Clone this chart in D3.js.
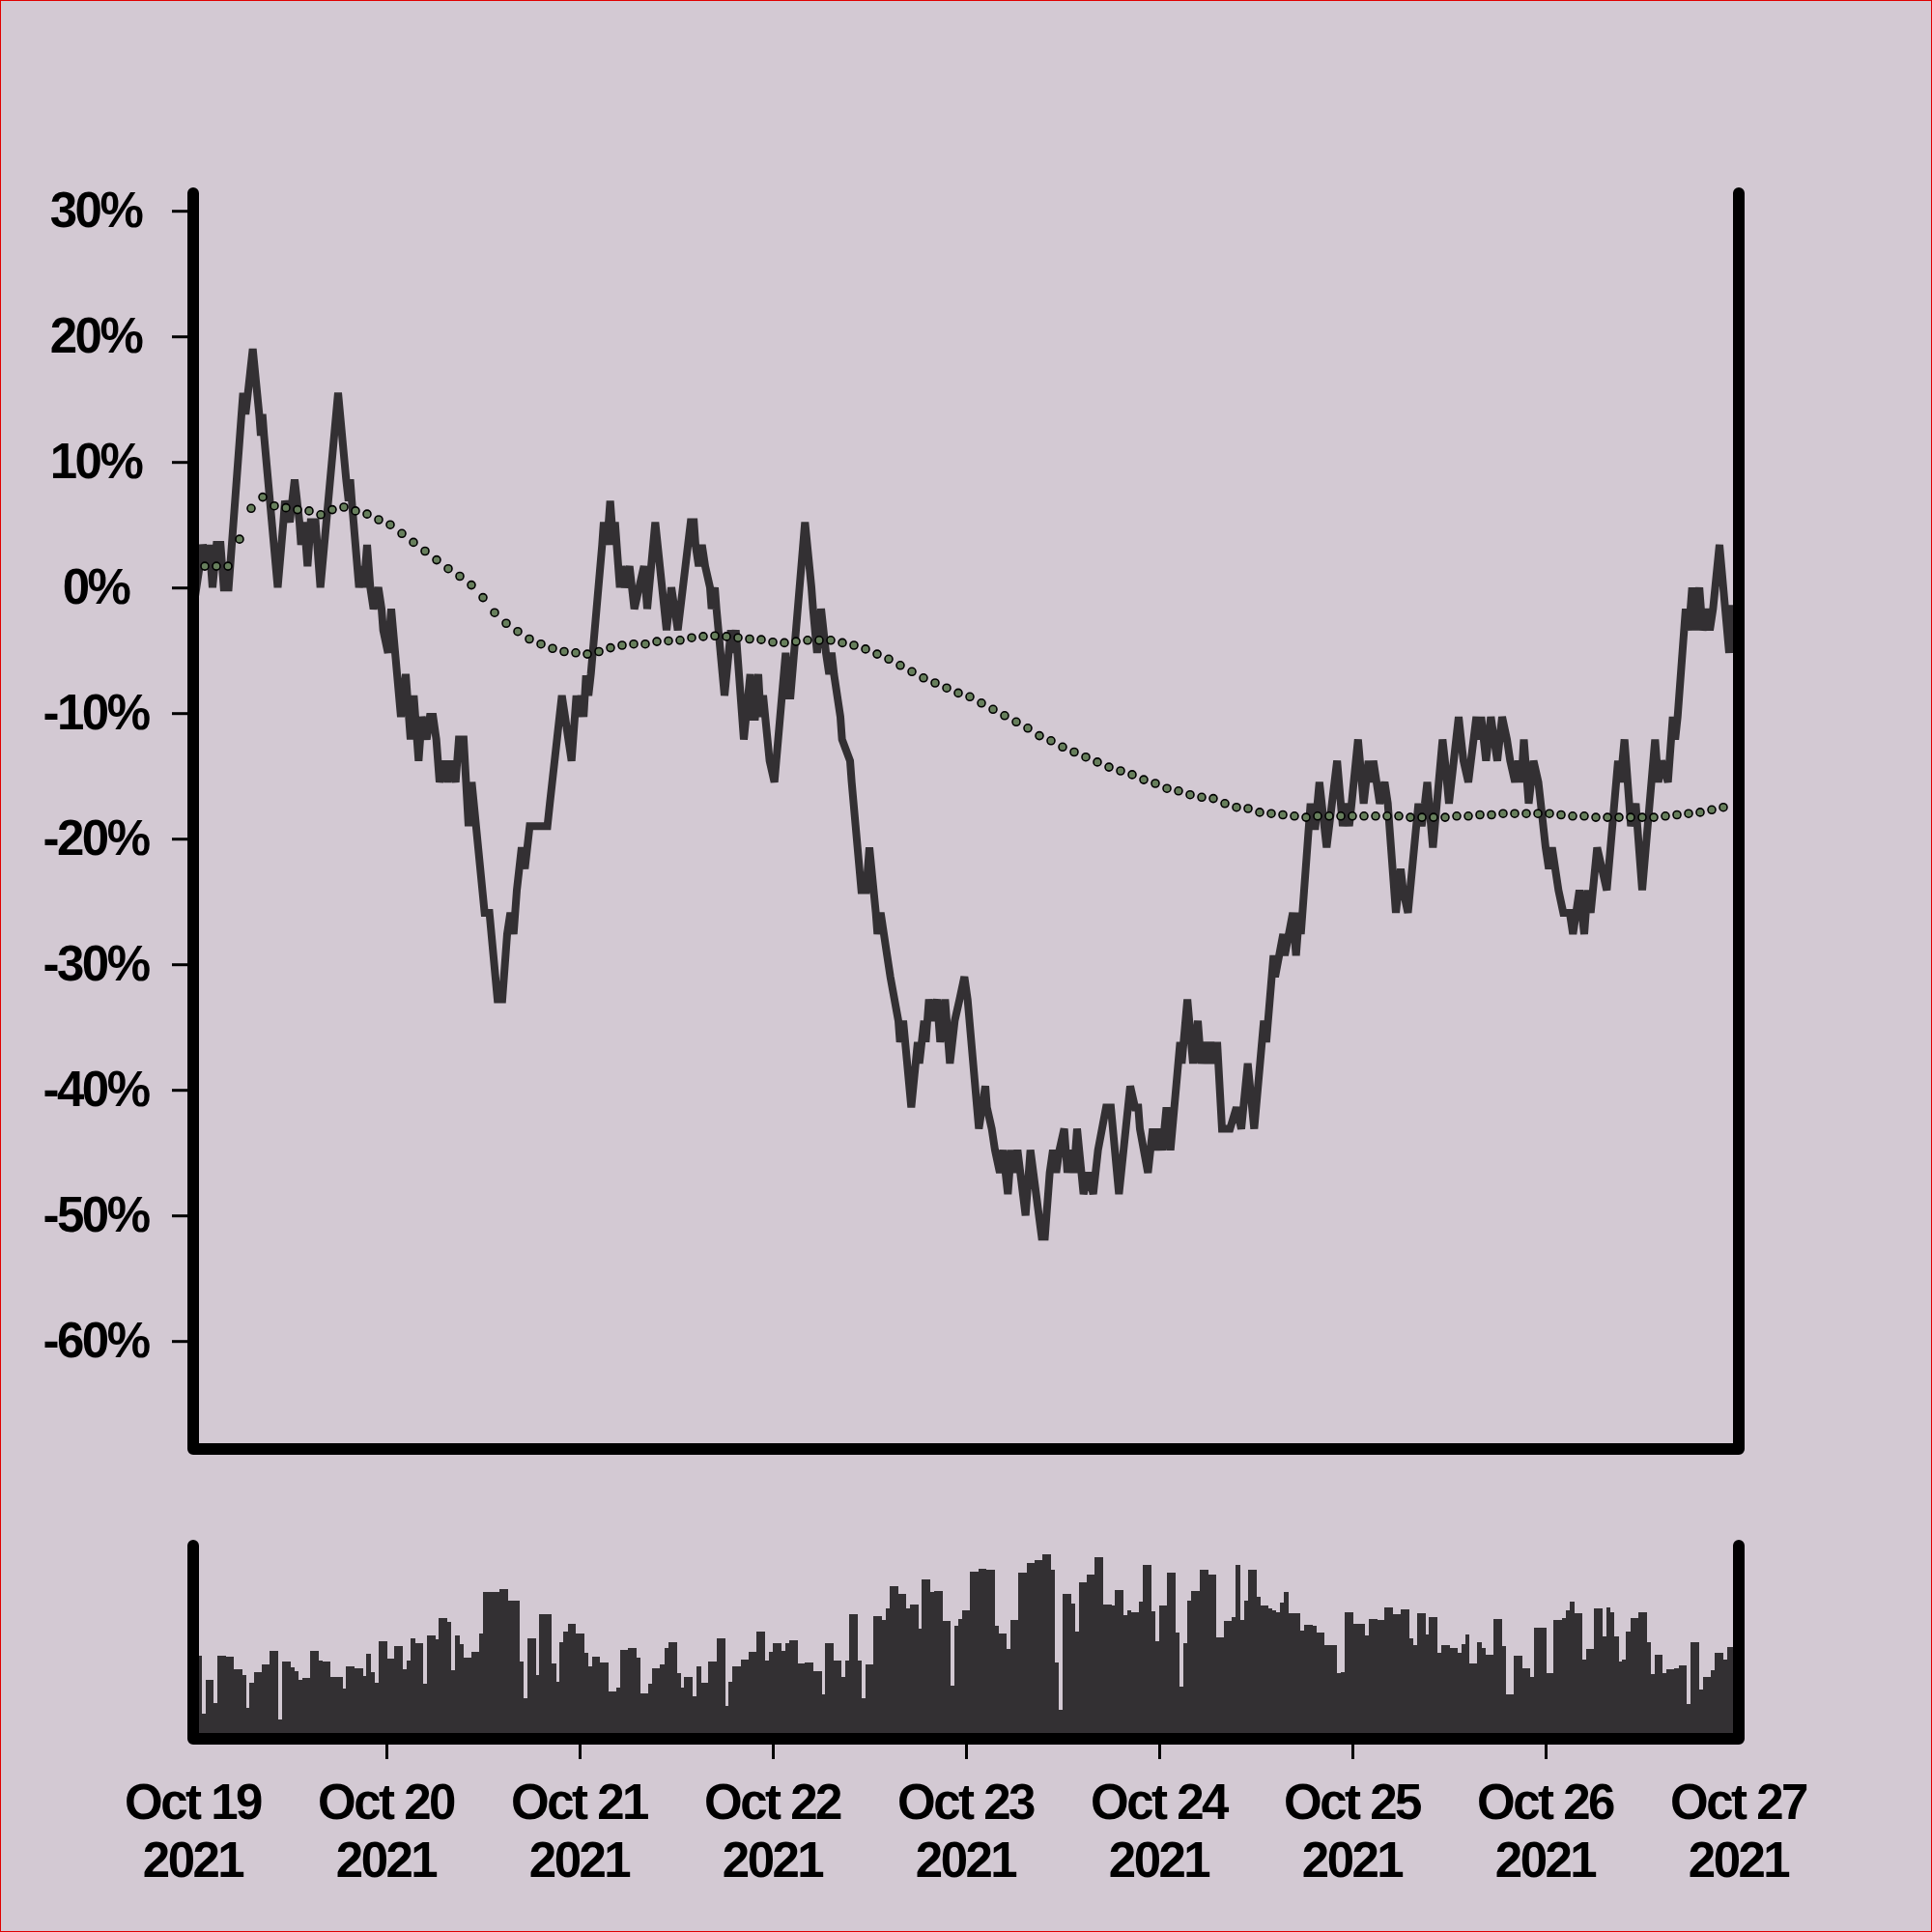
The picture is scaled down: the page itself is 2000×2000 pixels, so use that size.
<!DOCTYPE html>
<html><head><meta charset="utf-8">
<script src="https://cdn.jsdelivr.net/npm/d3@7"></script>
<style>
html,body{margin:0;padding:0;background:#d3c9d3;}
svg{display:block;}
text{font-family:"Liberation Sans",Arial,Helvetica,sans-serif;font-weight:bold;fill:#000;}
</style></head><body>
<svg id="chart" width="2000" height="2000"></svg>
<script>
// ---------- data ----------
const startDay = "2021-10-19";
const endDay = "2021-10-27";
const xTickDays = ["2021-10-19","2021-10-20","2021-10-21","2021-10-22","2021-10-23","2021-10-24","2021-10-25","2021-10-26","2021-10-27"];
const yTickValues = [-60,-50,-40,-30,-20,-10,0,10,20,30];

// price line vertices: hours after Oct 19 00:00 and % change
const lineHours = [0,1.2,1.8,2.0,2.4,2.9,3.4,3.8,4.4,6.0,6.2,6.5,6.8,7.4,8.2,8.4,8.6,8.8,10.5,11.2,11.4,12.0,12.6,13.2,13.4,13.8,14.2,14.6,15.2,15.8,18.0,19.0,19.3,19.5,19.7,20.6,21.0,21.2,21.6,22.0,22.4,23.0,23.4,23.6,24.2,24.6,25.8,26.4,27.0,27.4,28.0,28.4,29.0,29.4,29.8,30.2,30.6,31.2,31.6,32.0,32.6,33.0,33.6,34.2,34.6,36.2,36.8,37.8,38.4,39.0,39.4,39.8,40.2,40.8,41.2,41.8,44.0,44.3,45.8,46.2,46.6,47.0,47.6,47.9,48.2,48.5,48.8,49.1,49.4,50.8,51.0,51.4,51.8,52.2,52.4,53.0,53.2,53.6,54.2,54.8,55.4,56.0,56.4,57.4,58.8,59.4,60.2,61.8,62.2,62.4,62.8,63.2,63.6,64.2,64.4,64.8,65.0,66.0,66.8,67.0,67.4,67.6,68.4,69.2,69.4,69.8,70.2,70.5,70.8,71.6,72.2,73.6,73.9,74.2,76.0,76.8,77.0,77.5,78.0,78.6,79.0,79.3,79.6,80.4,80.6,81.6,81.8,83.0,83.6,84.0,84.8,85.0,85.4,85.8,86.2,86.6,87.6,87.8,88.2,89.2,90.0,90.2,90.8,91.0,91.4,91.8,92.4,92.8,93.4,94.0,94.6,95.2,95.8,96.2,97.6,98.4,98.6,99.2,99.6,100.2,100.6,101.2,101.6,102.0,102.4,103.4,104.0,105.4,105.8,106.4,106.8,107.2,107.6,108.2,108.6,109.0,109.4,109.8,110.6,111.2,111.8,112.4,113.4,114.0,115.0,116.4,117.0,117.4,117.6,118.6,119.2,119.6,120.0,120.4,120.9,121.4,122.6,122.8,123.5,124.2,124.8,125.2,125.6,126.0,126.4,126.8,127.2,127.8,128.8,129.6,130.2,131.0,131.8,133.0,133.3,134.2,134.4,135.4,135.6,136.6,137.0,137.4,137.6,138.8,139.0,139.4,139.9,140.8,142.1,142.8,143.2,143.6,143.9,144.7,145.4,146.0,146.3,146.6,147.0,147.4,148.0,148.4,148.6,149.4,150.0,150.3,150.9,152.2,152.6,153.0,153.3,154.0,155.2,155.5,156.0,157.2,157.5,157.8,158.4,159.4,159.7,160.0,160.6,161.2,162.0,162.6,163.2,163.6,164.2,164.6,165.0,165.3,165.9,166.5,167.1,167.4,168.0,168.4,168.8,169.2,169.6,170.2,171.0,171.4,172.2,172.8,173.2,173.6,174.4,175.0,175.6,177.0,177.3,177.8,178.6,179.2,179.4,180.0,181.6,182.0,182.4,183.2,183.8,184.1,184.4,185.4,185.8,186.2,186.6,186.8,187.1,187.5,188.0,188.4,188.8,189.6,190.8,191.2,192];
const linePct = [-1.7,3.4,1.7,3.4,0,3.4,3.4,0,0,13.8,15.5,13.8,15.5,19.0,13.8,12.1,13.8,12.1,0,5.2,6.9,5.2,8.6,5.2,3.4,5.2,1.7,5.2,5.2,0,15.5,8.6,6.9,8.6,6.9,0,1.7,0,3.4,0,-1.7,0,-1.7,-3.4,-5.2,-1.7,-10.3,-6.9,-12.1,-8.6,-13.8,-10.3,-12.1,-10.3,-10.3,-12.1,-15.5,-13.8,-15.5,-13.8,-15.5,-12.1,-12.1,-19.0,-15.5,-25.9,-25.9,-32.8,-32.8,-27.6,-25.9,-27.6,-24.1,-20.7,-22.4,-19.0,-19.0,-17.2,-8.6,-10.3,-12.1,-13.8,-8.6,-10.3,-8.6,-10.3,-7.0,-8.6,-6.9,3.4,5.2,3.4,6.9,3.4,5.2,0,1.7,0,1.7,-1.7,0,1.7,-1.7,5.2,-3.4,0,-3.4,5.2,5.2,3.4,1.7,3.4,1.7,0,-1.7,0,-1.7,-8.6,-3.4,-5.2,-3.4,-5.2,-12.1,-6.9,-10.3,-10.3,-6.9,-10.3,-8.6,-13.8,-15.5,-5.2,-8.6,-8.6,5.2,0,-1.7,-5.2,-1.7,-5.2,-6.9,-5.2,-6.9,-10.3,-12.1,-13.8,-15.5,-24.1,-24.1,-20.7,-25.9,-27.6,-25.9,-27.6,-29.3,-31.0,-34.5,-36.2,-34.5,-41.4,-36.2,-37.9,-34.5,-36.2,-32.8,-34.5,-32.8,-36.2,-32.8,-37.9,-34.5,-32.8,-31.0,-32.8,-43.1,-39.7,-41.4,-43.1,-44.8,-46.6,-44.8,-48.3,-44.8,-46.6,-44.8,-50.0,-44.8,-51.7,-51.7,-46.6,-44.8,-46.6,-44.8,-43.1,-46.6,-44.8,-46.6,-43.1,-48.3,-46.6,-48.3,-44.8,-41.4,-41.4,-48.3,-39.7,-41.4,-41.4,-43.1,-46.6,-43.1,-44.8,-43.1,-44.8,-41.4,-44.8,-36.2,-37.9,-32.8,-37.9,-34.5,-37.9,-36.2,-37.9,-36.2,-37.9,-36.2,-43.1,-43.1,-41.4,-43.1,-37.9,-43.1,-34.5,-36.2,-29.3,-31.0,-27.6,-29.3,-25.9,-29.3,-25.9,-27.6,-17.2,-19.0,-19.0,-15.5,-20.7,-13.8,-19.0,-17.2,-19.0,-17.2,-12.1,-17.2,-13.8,-15.5,-13.8,-15.5,-17.2,-15.5,-17.2,-19.0,-25.9,-22.4,-24.1,-25.9,-17.2,-19.0,-17.2,-15.5,-20.7,-12.1,-13.8,-17.2,-10.3,-12.1,-13.8,-15.5,-10.3,-12.1,-10.3,-13.8,-10.3,-13.8,-10.3,-12.1,-13.8,-15.5,-13.8,-15.5,-12.1,-17.2,-13.8,-15.5,-17.2,-20.7,-22.4,-20.7,-22.4,-24.1,-25.9,-25.9,-27.6,-24.1,-27.6,-24.1,-25.9,-20.7,-22.4,-24.1,-13.8,-15.5,-12.1,-19.0,-17.2,-19.0,-24.1,-12.1,-15.5,-13.8,-15.5,-10.3,-12.1,-10.3,-1.7,-3.4,0,-3.4,-1.7,0,-3.4,-1.7,-3.4,-1.7,3.4,-5.2,-1.7,-1.7];

// smoothed trend (dotted), one value every 1.44 h starting at 1.44 h
const trendStepHours = 1.44;
const trendPct = [1.7,1.7,1.7,3.85,6.3,7.2,6.5,6.35,6.2,6.1,5.8,6.2,6.4,6.1,5.85,5.4,5.0,4.3,3.6,2.9,2.2,1.5,0.9,0.2,-0.8,-2.0,-2.85,-3.5,-4.1,-4.5,-4.85,-5.1,-5.2,-5.3,-5.1,-4.8,-4.6,-4.5,-4.5,-4.3,-4.25,-4.2,-4.0,-3.9,-3.85,-3.9,-4.0,-4.1,-4.15,-4.35,-4.4,-4.3,-4.2,-4.2,-4.2,-4.4,-4.6,-4.9,-5.3,-5.7,-6.2,-6.7,-7.2,-7.6,-8.0,-8.4,-8.7,-9.2,-9.7,-10.2,-10.7,-11.2,-11.8,-12.2,-12.7,-13.1,-13.5,-13.9,-14.3,-14.6,-14.9,-15.3,-15.6,-16.0,-16.2,-16.5,-16.7,-16.8,-17.2,-17.5,-17.6,-17.9,-18.0,-18.1,-18.2,-18.3,-18.2,-18.2,-18.2,-18.2,-18.2,-18.2,-18.2,-18.2,-18.3,-18.3,-18.3,-18.3,-18.2,-18.2,-18.1,-18.1,-18.0,-18.0,-18.0,-18.0,-18.0,-18.1,-18.2,-18.2,-18.3,-18.3,-18.3,-18.3,-18.3,-18.3,-18.2,-18.1,-18.0,-17.9,-17.7,-17.5];

// volume, one bar per 30 minutes
const volumeStepMinutes = 30;
const volume = [80,80,20,55,55,31,80,80,79,79,66,66,60,26,52,63,63,71,71,85,85,14,74,74,68,64,55,57,57,85,85,75,74,74,58,58,58,46,69,69,67,67,59,82,63,52,95,95,77,77,90,90,66,75,98,93,93,51,101,101,97,119,119,115,65,101,92,78,78,84,84,103,146,146,146,146,149,149,137,137,137,74,36,98,98,60,123,123,123,72,53,94,105,113,113,103,103,83,69,79,79,73,73,43,43,47,86,86,88,88,78,41,41,51,67,67,71,88,94,94,62,47,58,58,38,69,52,52,74,74,98,98,28,53,69,69,76,76,84,84,105,105,75,84,93,93,85,93,96,96,72,72,73,73,64,64,40,93,93,75,75,58,75,123,123,75,36,71,71,121,121,117,129,152,152,144,144,129,133,133,108,159,159,146,147,147,116,116,49,111,118,127,
127,167,167,170,170,169,169,111,103,103,87,117,117,166,166,176,176,179,179,185,185,169,73,24,144,144,134,105,156,156,164,164,182,182,133,133,132,148,148,122,127,125,125,136,174,174,126,95,132,132,166,166,104,48,93,137,147,147,169,169,164,164,99,99,116,116,120,174,117,137,169,169,141,132,132,129,127,125,135,146,124,124,124,106,112,112,111,104,104,91,91,91,62,63,125,125,113,113,113,101,118,118,117,117,130,130,123,123,128,128,98,91,124,124,102,120,120,83,91,91,88,88,83,92,102,72,72,94,88,81,81,118,118,90,40,40,80,80,67,67,58,109,109,109,62,62,117,117,119,127,136,124,124,76,87,87,129,129,100,130,125,100,74,76,105,119,119,125,125,94,61,81,81,62,66,66,67,70,70,30,94,94,45,58,58,65,83,83,76,89,89,89];

// ---------- drawing ----------
const svg = d3.select("#chart");
const W = 2000, H = 2000;
svg.append("rect").attr("x",0.5).attr("y",0.5).attr("width",W-1).attr("height",H-1)
  .attr("fill","#d3c9d3").attr("stroke","#e00000").attr("stroke-width",1);

const t0 = new Date(startDay + "T00:00:00Z");
const t1 = new Date(endDay + "T00:00:00Z");
const HOUR = 3600e3;

const x = d3.scaleUtc().domain([t0, t1]).range([200, 1800]);
const y = d3.scaleLinear().domain([-68.6, 31.4]).range([1500, 200]);
const yv = d3.scaleLinear().domain([0, 194]).range([1794, 1600]);

const lineColor = "#333033";

// volume bars
const bars = volume.map((v, i) => ({
  a: new Date(+t0 + i * volumeStepMinutes * 60e3),
  b: new Date(+t0 + (i + 1) * volumeStepMinutes * 60e3),
  v
}));
svg.append("g").attr("shape-rendering","crispEdges")
  .selectAll("rect").data(bars).join("rect")
  .attr("x", d => x(d.a))
  .attr("width", d => x(d.b) - x(d.a) + 0.6)
  .attr("y", d => yv(d.v))
  .attr("height", d => 1800 - yv(d.v))
  .attr("fill", lineColor);

// price line
const pts = lineHours.map((h, i) => ({ t: new Date(+t0 + h * HOUR), v: linePct[i] }));
const line = d3.line().x(d => x(d.t)).y(d => y(d.v));
svg.append("path").datum(pts)
  .attr("d", line)
  .attr("fill","none").attr("stroke", lineColor).attr("stroke-width", 8)
  .attr("stroke-linejoin","miter").attr("stroke-miterlimit", 3);

// trend dots
const trend = trendPct.map((v, i) => ({ t: new Date(+t0 + (i + 1) * trendStepHours * HOUR), v }));
svg.append("g").selectAll("circle").data(trend).join("circle")
  .attr("cx", d => x(d.t)).attr("cy", d => y(d.v)).attr("r", 4)
  .attr("fill", "#677f5c").attr("stroke", "#000").attr("stroke-width", 1.6);

// y axis (ticks + centred labels)
const yAxis = d3.axisLeft(y).tickValues(yTickValues).tickSize(22).tickFormat(d => d + "%");
const gy = svg.append("g").attr("transform","translate(200,0)").call(yAxis);
gy.select(".domain").remove();
gy.selectAll(".tick line").attr("stroke","#000").attr("stroke-width",3);
gy.selectAll(".tick text")
  .attr("x", -101).attr("text-anchor","middle")
  .attr("font-size",51).attr("letter-spacing","-2.5px")
  .attr("fill","#000").attr("font-family",null);

// x axis (bottom panel)
const dayDates = xTickDays.map(s => new Date(s + "T00:00:00Z"));
const fmtDay = d3.utcFormat("%b %-d");
const fmtYear = d3.utcFormat("%Y");
const xAxis = d3.axisBottom(x).tickValues(dayDates).tickSize(21).tickFormat("");
const gx = svg.append("g").attr("transform","translate(0,1800)").call(xAxis);
gx.select(".domain").remove();
gx.selectAll(".tick line").attr("stroke","#000").attr("stroke-width",3)
  .attr("display", (d, i) => (i === 0 || i === dayDates.length - 1) ? "none" : null);
gx.selectAll(".tick text").remove();
const lab = gx.selectAll(".tick").append("text")
  .attr("text-anchor","middle").attr("font-size",51).attr("letter-spacing","-2.5px").attr("fill","#000");
lab.append("tspan").attr("x",-1).attr("y",83).text(d => fmtDay(d));
lab.append("tspan").attr("x",-1).attr("y",143).text(d => fmtYear(d));

// frames
const frame = (top, bottom) => `M200,${top}V${bottom}H1800V${top}`;
svg.append("path").attr("d", frame(200, 1500))
  .attr("fill","none").attr("stroke","#000").attr("stroke-width",12)
  .attr("stroke-linecap","round").attr("stroke-linejoin","round");
svg.append("path").attr("d", frame(1600, 1800))
  .attr("fill","none").attr("stroke","#000").attr("stroke-width",12)
  .attr("stroke-linecap","round").attr("stroke-linejoin","round");
</script>
</body></html>
